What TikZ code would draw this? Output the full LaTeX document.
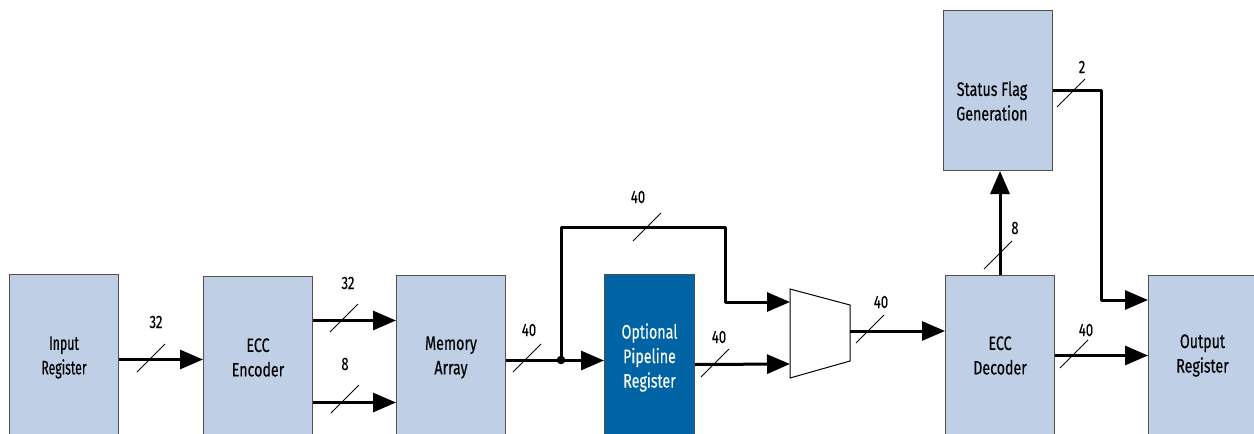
\documentclass[tikz,border=0pt]{standalone}
\usepackage{fontspec}
\setmainfont[FakeStretch=0.73,FakeBold=0.25]{Fira Sans}
\newfontfamily\narrowfont[FakeStretch=0.63,FakeBold=0.25]{Fira Sans}
\usetikzlibrary{arrows.meta}
\definecolor{boxblue}{HTML}{BFCFE5}
\definecolor{pipeblue}{HTML}{0063A3}
\definecolor{boxedge}{HTML}{505050}
\tikzset{
  blk/.style={draw=boxedge, line width=1pt, fill=boxblue, rectangle, anchor=north west,
    inner sep=0pt, align=center, font=\fontsize{19.5}{24.5}\selectfont},
  bus/.style={line width=3pt, -{Triangle[length=23pt,width=19pt]}},
  tick/.style={line width=0.9pt},
  lbl/.style={font=\fontsize{18}{20}\selectfont, inner sep=0pt},
}
\begin{document}
\begin{tikzpicture}[x=1pt,y=-1pt]
\clip (0,0) rectangle (1254,434);
\fill[white] (0,0) rectangle (1254,434);
% blocks
\node[blk, minimum width=109pt, minimum height=166pt] (in) at (9,274) {\narrowfont Input\\\narrowfont Register};
\node[blk, minimum width=109pt, minimum height=162pt] (enc) at (203,276) {ECC\\Encoder};
\node[blk, minimum width=109pt, minimum height=164pt] (mem) at (396,275) {Memory\\Array};
\node[blk, fill=pipeblue, text=white, minimum width=90pt, minimum height=166pt] (pipe) at (604,274) {Optional\\Pipeline\\Register};
\node[blk, minimum width=109pt, minimum height=160pt] (dec) at (945,275) {ECC\\Decoder};
\node[blk, minimum width=108pt, minimum height=160pt] (out) at (1148,275) {Output\\Register};
\node[blk, minimum width=109pt, minimum height=160pt] (sfg) at (943,10) {};
\node[align=center, inner sep=0pt, font=\fontsize{19.5}{24.5}\selectfont] (sfgt) at (992,101) {Status Flag\\Generation};
% mux
\coordinate (m1) at (790,302);
\coordinate (m2) at (790,364);
\coordinate (mo) at (850,331);
\draw[line width=1pt, fill=white] (790,289) -- (850,305) -- (850,361) -- (790,378) -- cycle;
% junctions
\coordinate (j) at (561,360);
\coordinate (bp) at (725,227);
\coordinate (sc) at (1101,300);
% connectors
\draw[bus] ([yshift=-2pt]in.east) -- ([yshift=-2pt]enc.west);
\draw[bus] ([yshift=37pt]enc.east) -- ([yshift=37pt]mem.west);
\draw[bus] ([yshift=-45pt]enc.east) -- ([yshift=-45pt]mem.west);
\draw[bus] ([yshift=-3pt]mem.east) -- ([yshift=-3pt]pipe.west);
\draw[bus, line join=round] (j) |- (bp) |- (m1);
\fill (j) circle (4.3pt);
\draw[bus] ([yshift=-7pt]pipe.east) -- (m2);
\draw[bus] (mo) -- (dec.west |- mo);
\draw[bus] (dec.north) -- (dec.north |- sfg.south);
\draw[bus, line join=round] (sfg.east) -| (sc) -- (out.west |- sc);
\draw[bus] (dec.east) -- (out.west);
% bus width ticks and labels
\foreach \x/\y/\lx/\ly/\t in {151/358/156/322/32, 344/318/348/283/32, 345/399/345/364/8,
  527/358/529/330/40, 647/227/638/197/40, 715/363/719/337/40, 870/329/881/302/40,
  998/255/1015/228/8, 1071/93/1082/67/2, 1074/354/1086/330/40}{
  \draw[tick] (\x-14,\y+14) -- (\x+14,\y-14);
  \node[lbl] at (\lx,\ly) {\t};
}
\end{tikzpicture}
\end{document}
